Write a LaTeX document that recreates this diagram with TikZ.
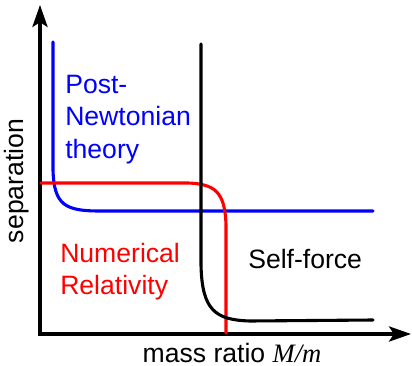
\documentclass[tikz,border=0pt]{standalone}
\usepackage{fontspec}
\setmainfont{Liberation Sans}
\newfontfamily\serifvar{Liberation Serif}
\usepackage{tikz}
\usetikzlibrary{arrows.meta,positioning}

\begin{document}
\begin{tikzpicture}[x=0.025cm,y=-0.025cm,
  axis/.style={line width=2.2pt,line join=miter,
               {Stealth[length=0.55cm,width=0.38cm,inset=0.12cm]}-{Stealth[length=0.55cm,width=0.38cm,inset=0.12cm]}},
  curve/.style={line width=2.2pt,line cap=round},
  lbl/.style={font=\fontsize{18.9}{23}\selectfont,inner sep=0pt,align=left},
]
\useasboundingbox (0,0) rectangle (412,366);
% axes
\coordinate (ytip) at (40,5);
\coordinate (xtip) at (411,334);
\draw[axis] (ytip) |- (xtip);
\node[lbl,anchor=base,rotate=90] (sep) at (23,181) {separation};
\node[lbl,anchor=base] (ratio) at (232,362) {mass ratio {\serifvar\itshape M/m}};
% regimes
\draw[curve,blue] (53,42) -- (53,170) .. controls (54,205) and (65,211) .. (100,211) -- (373,211);
\draw[curve,red] (41,183) -- (188,183) .. controls (215,184) and (225,192) .. (226,225) -- (226,333);
\draw[curve,black] (201,44) -- (201,265) .. controls (202,310) and (215,320) .. (250,321) -- (373,320);
\node[lbl,blue,anchor=north west] (pn) at (65,75) {Post-\\Newtonian\\theory};
\node[lbl,red,anchor=north west] (nr) at (60,243) {Numerical\\Relativity};
\node[lbl,anchor=base west] (sf) at (248,268) {Self-force};
\end{tikzpicture}
\end{document}
